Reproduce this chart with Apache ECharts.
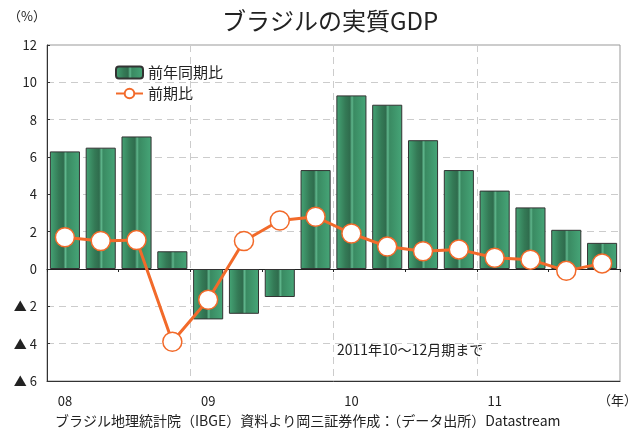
<!DOCTYPE html>
<html>
<head>
<meta charset="utf-8">
<script src="https://cdn.jsdelivr.net/npm/echarts@6/dist/echarts.min.js"></script>
<style>
    html, body { margin: 0; padding: 0; background: #fff; }
    #chart { width: 635px; height: 435px; }
</style>
</head>
<body>
<div id="chart"></div>
<script>
// quarters 2008 Q1 .. 2011 Q4
const quarters = ['08Q1', '08Q2', '08Q3', '08Q4', '09Q1', '09Q2', '09Q3', '09Q4',
    '10Q1', '10Q2', '10Q3', '10Q4', '11Q1', '11Q2', '11Q3', '11Q4']
const yearLabels = ['08', '', '', '', '09', '', '', '', '10', '', '', '', '11', '', '', '']
const yoy = [6.3, 6.5, 7.1, 0.95, -2.7, -2.4, -1.5, 5.3, 9.3, 8.8, 6.9, 5.3, 4.2, 3.3, 2.1, 1.4]
const qoq = [1.7, 1.5, 1.55, -3.9, -1.65, 1.5, 2.6, 2.8, 1.9, 1.2, 0.95, 1.05, 0.6, 0.5, -0.1, 0.3]

const font = '"Noto Sans CJK JP", "Noto Sans", sans-serif'
const green = new echarts.graphic.LinearGradient(0, 0, 1, 0, [
    {offset: 0, color: '#45a576'},
    {offset: 0.3, color: '#347a56'},
    {offset: 0.45, color: '#2f6c4d'},
    {offset: 0.52, color: '#5fb68c'},
    {offset: 0.58, color: '#3a8a62'},
    {offset: 1, color: '#46a678'}
])

const chart = echarts.init(document.getElementById('chart'))
chart.setOption({
    animation: false,
    textStyle: {fontFamily: font},
    title: {
        text: 'ブラジルの実質GDP',
        left: 217,
        top: 4,
        textStyle: {fontSize: 24, fontWeight: 'normal', color: '#222', fontFamily: font}
    },
    legend: {
        orient: 'vertical',
        left: 110,
        top: 60,
        itemWidth: 27,
        itemHeight: 12,
        itemGap: 6,
        textStyle: {fontSize: 15, color: '#222'},
        data: ['前年同期比', '前期比']
    },
    grid: {
        left: 47, right: 15, top: 45, bottom: 54,
        show: true, borderColor: '#999', borderWidth: 1
    },
    xAxis: [{
        type: 'category',
        data: quarters,
        axisLine: {onZero: true, lineStyle: {color: '#222', width: 1}},
        axisTick: {show: true, length: 3, lineStyle: {color: '#222'}},
        axisLabel: {show: false},
        splitLine: {
            show: true,
            interval: (i) => i > 0 && i % 4 === 0,
            lineStyle: {color: '#ccc', type: [7, 5]}
        }
    }, {
        type: 'category',
        position: 'bottom',
        data: yearLabels,
        axisLine: {onZero: false, lineStyle: {color: '#333'}},
        axisTick: {show: false},
        axisLabel: {interval: 0, fontSize: 13, color: '#222', margin: 14}
    }],
    yAxis: {
        type: 'value',
        min: -6, max: 12, interval: 2,
        axisLine: {show: true, lineStyle: {color: '#333'}},
        axisTick: {show: true, inside: true, length: 3, lineStyle: {color: '#333'}},
        axisLabel: {
            fontSize: 13, color: '#222', margin: 10,
            formatter: (v) => v < 0 ? '▲ ' + (-v) : String(v)
        },
        splitLine: {lineStyle: {color: '#ccc', type: [7, 5]}}
    },
    series: [{
        name: '前年同期比',
        type: 'bar',
        data: yoy,
        barCategoryGap: '16%',
        itemStyle: {color: green, borderColor: '#333', borderWidth: 1}
    }, {
        name: '前期比',
        type: 'line',
        data: qoq,
        symbol: 'circle',
        symbolSize: 19,
        z: 5,
        lineStyle: {color: '#f26a2a', width: 3},
        itemStyle: {color: '#fff', borderColor: '#f26a2a', borderWidth: 1.5}
    }],
    graphic: [
        {type: 'text', left: 8, top: 10, style: {text: '（%）', font: '13px ' + font, fill: '#222'}},
        {type: 'text', left: 598, top: 394, style: {text: '（年）', font: '13px ' + font, fill: '#222'}},
        {type: 'text', left: 337, top: 343, style: {text: '2011年10～12月期まで', font: '14px ' + font, fill: '#222'}},
        {type: 'text', left: 55, top: 414, style: {text: 'ブラジル地理統計院（IBGE）資料より岡三証券作成：（データ出所）Datastream', font: '14px ' + font, fill: '#222'}}
    ]
})
</script>
</body>
</html>
